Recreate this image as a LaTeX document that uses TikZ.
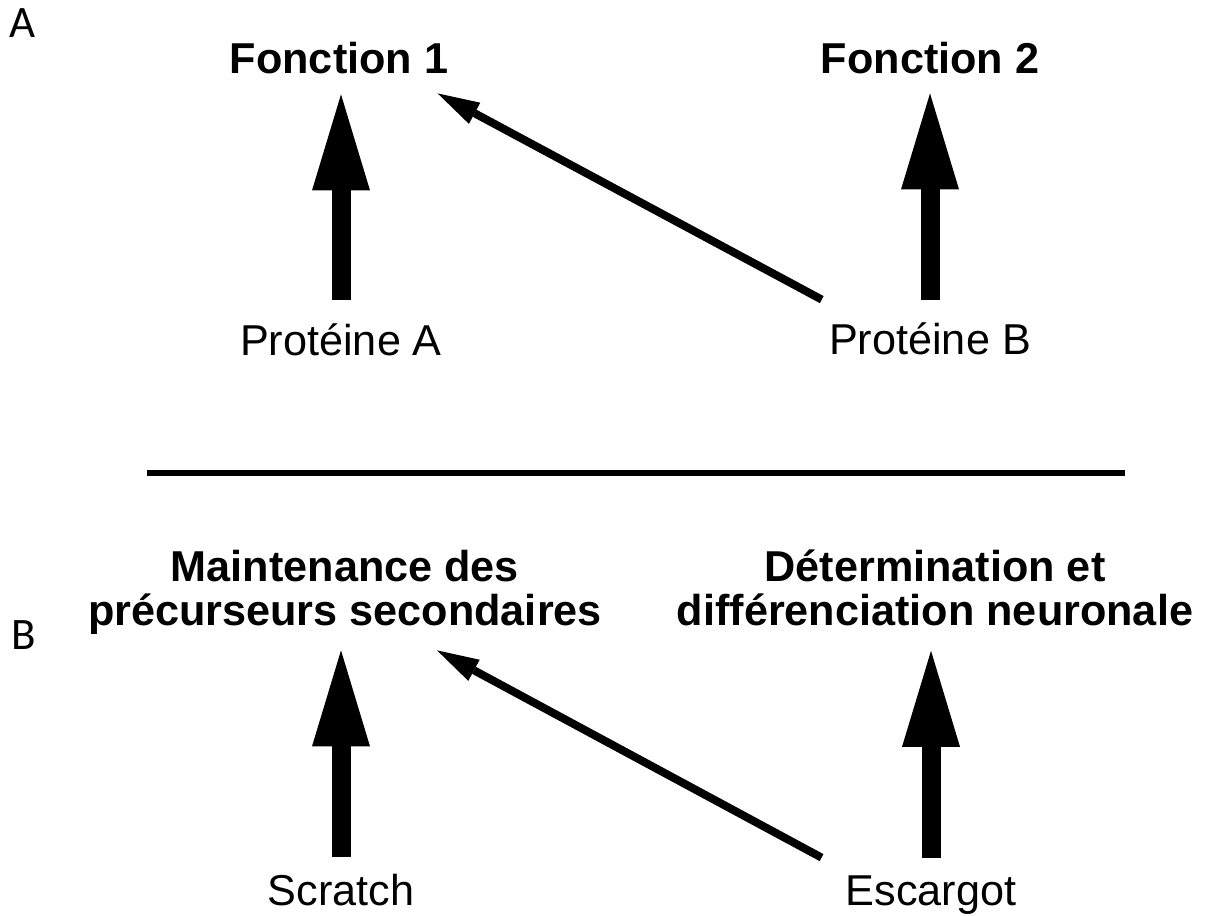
\documentclass[tikz,border=0pt]{standalone}
\usepackage{fontspec}
\setmainfont{Liberation Sans}
\newfontfamily\panelfont{Carlito}
\usepackage{tikz}
\usetikzlibrary{arrows.meta,positioning}

\begin{document}
\begin{tikzpicture}[x=0.5pt,y=-0.5pt]

\tikzset{
  txt/.style={inner sep=0pt, anchor=base, text height=16pt, text depth=5pt,
              font=\fontsize{21.6}{21.6}\selectfont},
  func/.style={txt, font=\fontsize{21.6}{21.6}\selectfont\bfseries},
  bigfunc/.style={inner sep=0pt, anchor=base, align=center,
              font=\fontsize{21.6}{21.6}\selectfont\bfseries},
  panel/.style={inner sep=0pt, anchor=base west,
              font=\panelfont\fontsize{22.5}{22.5}\selectfont},
  fat/.style={line width=9.5pt,
              -{Triangle[length=48pt, width=29pt, line width=0pt]}},
  slant/.style={line width=4pt,
              -{Triangle[length=21pt, width=12pt, line width=0pt]}},
  separator/.style={line width=3pt}
}

\useasboundingbox (0,0) rectangle (1208,915);

% Panel A
\node[panel] (panA) at (9,38) {A};
\node[func] (fonc1) at (339,74) {Fonction 1};
\node[func] (fonc2) at (930,74) {Fonction 2};
\node[txt] (protA) at (341,355) {Protéine A};
\node[txt] (protB) at (930,354) {Protéine B};

\draw[fat, shorten <=11.5pt, shorten >=5pt] (protA.north) -- (protA.north |- fonc1.south);
\draw[fat, shorten <=11pt, shorten >=4.5pt] (protB.north) -- (protB.north |- fonc2.south);
\draw[slant] ([xshift=-3.5pt,yshift=11pt]protB.north west) -- ([xshift=-5.5pt,yshift=-4.5pt]fonc1.south east);

% Separator
\draw[separator] (147,473) -- (1125,473);

% Panel B
\node[panel] (panB) at (11,649) {B};
\node[bigfunc] (maint) at (345,625) {Maintenance des\\précurseurs secondaires};
\node[bigfunc] (determ) at (935,625) {Détermination et\\différenciation neuronale};
\node[txt] (scratch) at (341,905) {Scratch};
\node[txt] (escargot) at (931,905) {Escargot};

\draw[fat, shorten <=8pt, shorten >=8pt] (scratch.north) -- (scratch.north |- maint.south);
\draw[fat, shorten <=7.5pt, shorten >=12.5pt] (escargot.north) -- (escargot.north |- determ.south);
\draw[slant] ([xshift=-11.9pt,yshift=7.5pt]escargot.north west) -- ([xshift=46pt,yshift=-8pt]maint.south);

\end{tikzpicture}
\end{document}
